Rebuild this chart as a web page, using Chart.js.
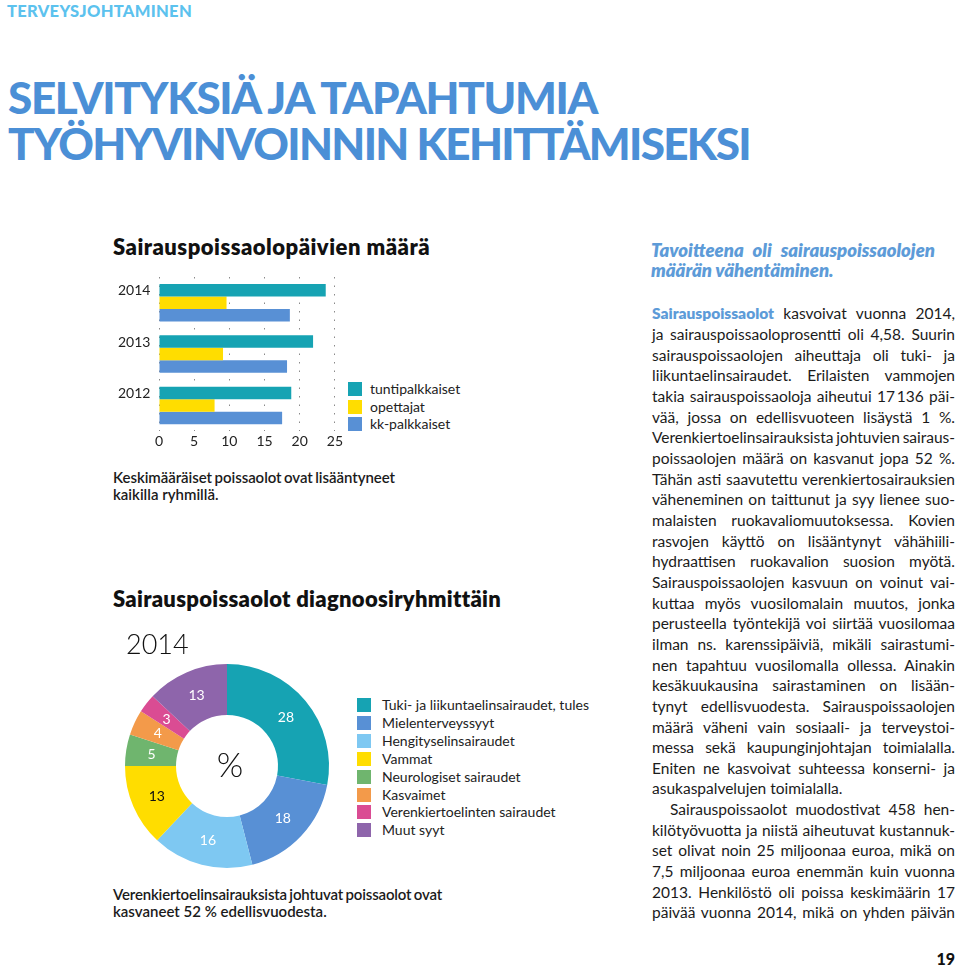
<!DOCTYPE html>
<html>
  <head>
    <meta charset="utf-8" />
    <title>Terveysjohtaminen</title>
    <script src="https://cdn.jsdelivr.net/npm/chart.js"></script>
    <style>
      html,
      body {
        margin: 0;
        padding: 0;
        background: #fff;
      }
      #page {
        position: relative;
        width: 960px;
        height: 970px;
        overflow: hidden;
        font-family: Lato, "Noto Sans", sans-serif;
        color: #1b1b1b;
      }
      .ln {
        position: absolute;
        white-space: nowrap;
        line-height: 1.2;
      }
      .bl {
        display: inline-block;
        width: 0;
        height: 0;
      }
      .tl {
        display: block;
        width: max-content;
        height: 46px;
        line-height: 46px;
        overflow: visible;
      }
      .box {
        position: absolute;
      }
      .sw {
        position: absolute;
        width: 14px;
        height: 14px;
      }
    </style>
  </head>
  <body>
    <div id="page">
      <div class="box" style="left: 105px; top: 267px; width: 240px; height: 190px"><canvas id="bars"></canvas></div>
      <div class="box" style="left: 115px; top: 654px; width: 224px; height: 224px"><canvas id="donut"></canvas></div>
    </div>
    <script>
      // bar chart: sick-leave days per group
      const barYears = ["2014", "2013", "2012"];
      const barSeries = ["tuntipalkkaiset", "opettajat", "kk-palkkaiset"];
      const tuntipalkkaiset = [23.7, 21.9, 18.8];
      const opettajat = [9.6, 9.1, 7.9];
      const kkPalkkaiset = [18.6, 18.2, 17.5];
      const barColors = ["#16a3b3", "#ffdd00", "#5890d5"];
      const xMax = 25;
      const xStep = 5;

      // doughnut: diagnosis groups 2014, %
      const diagLabels = [
        "Tuki- ja liikuntaelinsairaudet, tules",
        "Mielenterveyssyyt",
        "Hengityselinsairaudet",
        "Vammat",
        "Neurologiset sairaudet",
        "Kasvaimet",
        "Verenkiertoelinten sairaudet",
        "Muut syyt",
      ];
      const diagValues = [28, 18, 16, 13, 5, 4, 3, 13];
      const diagColors = ["#16a3b3", "#5890d5", "#7ec8f2", "#ffdd00", "#6fb56e", "#f39a4a", "#da4c93", "#8e65ab"];
      const diagTextColors = ["#fff", "#fff", "#fff", "#111", "#fff", "#fff", "#fff", "#fff"];

      const bodyLines = [
        '<b style="color:#5d9bd8;font-weight:800">Sairauspoissaolot</b> kasvoivat vuonna 2014,',
        "ja sairauspoissaoloprosentti oli 4,58. Suurin",
        "sairauspoissaolojen aiheuttaja oli tuki- ja",
        "liikuntaelinsairaudet. Erilaisten vammojen",
        "takia sairauspoissaoloja aiheutui 17\u2009136 päi-",
        "vää, jossa on edellisvuoteen lisäystä 1 %.",
        "Verenkiertoelinsairauksista johtuvien sairaus-",
        "poissaolojen määrä on kasvanut jopa 52 %.",
        "Tähän asti saavutettu verenkiertosairauksien",
        "väheneminen on taittunut ja syy lienee suo-",
        "malaisten ruokavaliomuutoksessa. Kovien",
        "rasvojen käyttö on lisääntynyt vähähiili-",
        "hydraattisen ruokavalion suosion myötä.",
        "Sairauspoissaolojen kasvuun on voinut vai-",
        "kuttaa myös vuosilomalain muutos, jonka",
        "perusteella työntekijä voi siirtää vuosilomaa",
        "ilman ns. karenssipäiviä, mikäli sairastumi-",
        "nen tapahtuu vuosilomalla ollessa. Ainakin",
        "kesäkuukausina sairastaminen on lisään-",
        "tynyt edellisvuodesta. Sairauspoissaolojen",
        "määrä väheni vain sosiaali- ja terveystoi-",
        "messa sekä kaupunginjohtajan toimialalla.",
        "Eniten ne kasvoivat suhteessa konserni- ja",
        "asukaspalvelujen toimialalla.",
        "Sairauspoissaolot muodostivat 458 hen-",
        "kilötyövuotta ja niistä aiheutuvat kustannuk-",
        "set olivat noin 25 miljoonaa euroa, mikä on",
        "7,5 miljoonaa euroa enemmän kuin vuonna",
        "2013. Henkilöstö oli poissa keskimäärin 17",
        "päivää vuonna 2014, mikä on yhden päivän",
      ];

      const page = document.getElementById("page");

      function fit(d, target, mode) {
        const w = d.getBoundingClientRect().width;
        const text = d.textContent;
        const spaces = (text.match(/ /g) || []).length;
        if (mode === "w" && spaces > 0) {
          let ws = (target - w) / spaces;
          if (ws < -1.2) {
            ws = -1.2;
            const rest = target - (w + ws * spaces);
            d.style.letterSpacing = rest / text.length + "px";
          }
          d.style.wordSpacing = ws + "px";
        } else {
          d.style.letterSpacing = (target - w) / text.length + "px";
        }
      }

      // put a line of text with its baseline at y = base
      function put(html, x, base, style, target, mode) {
        const d = document.createElement("div");
        d.className = "ln";
        Object.assign(d.style, style || {});
        d.innerHTML = html + '<span class="bl"></span>';
        d.style.left = x + "px";
        page.appendChild(d);
        if (target) fit(d, target, mode || "w");
        const b = d.querySelector(".bl").offsetTop;
        d.style.top = base - b + "px";
        return d;
      }

      put("TERVEYSJOHTAMINEN", 7, 17, { fontSize: "16.5px", fontWeight: 900, color: "#5cc2ee", lineHeight: 1 }, 185, "l");

      // two-line title as one block, each line its own 46px row
      const title = document.createElement("div");
      title.className = "ln";
      Object.assign(title.style, { left: "8px", fontSize: "44px", fontWeight: 900, color: "#4b8fd6", lineHeight: "46px" });
      title.innerHTML =
        '<div class="tl" id="t1">SELVITYKSIÄ JA TAPAHTUMIA<span class="bl"></span></div><div class="tl" id="t2">TYÖHYVINVOINNIN KEHITTÄMISEKSI</div>';
      page.appendChild(title);
      [["t1", 589], ["t2", 742]].forEach(([id, w]) => {
        const s = document.getElementById(id);
        const cur = s.getBoundingClientRect().width;
        s.style.letterSpacing = (w - cur) / s.textContent.length + "px";
      });
      const t1 = document.getElementById("t1");
      title.style.top = 114 - (t1.offsetTop + t1.querySelector(".bl").offsetTop) + "px";

      const sub = { fontSize: "22px", fontWeight: 800, color: "#111" };
      put("Sairauspoissaolopäivien määrä", 113, 255, sub, 317, "l");
      put("Sairauspoissaolot diagnoosiryhmittäin", 113, 607, sub, 387, "l");

      const note = { fontSize: "15px", fontWeight: 600, color: "#1b1b1b", lineHeight: 1.1 };
      put("Keskimääräiset poissaolot ovat lisääntyneet", 113, 483, note, 282);
      put("kaikilla ryhmillä.", 113, 500, note);
      put("Verenkiertoelinsairauksista johtuvat poissaolot ovat", 113, 900, note, 329);
      put("kasvaneet 52 % edellisvuodesta.", 113, 917, note);

      put("2014", 126, 654, { fontSize: "27px", fontWeight: 300, color: "#111" });

      const ital = { fontSize: "18.5px", fontWeight: 800, fontStyle: "italic", color: "#5d9bd8", lineHeight: 1.05 };
      put("Tavoitteena oli sairauspoissaolojen", 651, 257, ital, 284);
      put("määrän vähentäminen.", 651, 277, ital);

      const body = { fontSize: "15.5px", color: "#1b1b1b", lineHeight: 1.3 };
      bodyLines.forEach((t, i) => {
        const base = 319.3 + i * 20.66;
        if (i === 23) put(t, 652, base, body);
        else if (i === 24) put(t, 670, base, body, 285);
        else put(t, 652, base, body, 303);
      });

      const pn = put("19", 0, 965, { fontSize: "16px", fontWeight: 900, color: "#111" });
      pn.style.left = 955 - pn.getBoundingClientRect().width + "px";

      // legends
      function legend(labels, colors, x, y0, step, textX) {
        labels.forEach((l, i) => {
          const c = y0 + i * step;
          const s = document.createElement("div");
          s.className = "sw";
          s.style.left = x + "px";
          s.style.top = c - 7 + "px";
          s.style.background = colors[i];
          page.appendChild(s);
          put(l, textX, c + 5, { fontSize: "14px", color: "#222", lineHeight: 1.1 });
        });
      }
      legend(barSeries, barColors, 348, 389, 17.7, 370);
      legend(diagLabels, diagColors, 357, 705, 17.9, 382);

      Chart.defaults.font.family = "Lato, 'Noto Sans', sans-serif";
      Chart.defaults.color = "#222";

      new Chart(document.getElementById("bars"), {
        type: "bar",
        data: {
          labels: barYears,
          datasets: [
            { label: barSeries[0], data: tuntipalkkaiset, backgroundColor: barColors[0] },
            { label: barSeries[1], data: opettajat, backgroundColor: barColors[1] },
            { label: barSeries[2], data: kkPalkkaiset, backgroundColor: barColors[2] },
          ],
        },
        options: {
          indexAxis: "y",
          responsive: true,
          maintainAspectRatio: false,
          animation: false,
          categoryPercentage: 0.73,
          barPercentage: 1,
          layout: { padding: { top: 10, bottom: 5, right: 10, left: 13 } },
          plugins: { legend: { display: false }, tooltip: { enabled: false } },
          scales: {
            x: {
              min: 0,
              max: xMax,
              ticks: { stepSize: xStep, padding: 2, font: { size: 14 }, color: "#222" },
              grid: { color: "#8a8a8a", lineWidth: 1, drawTicks: false },
              border: { display: false, dash: [1.5, 7] },
            },
            y: {
              afterFit: (s) => {
                s.width = 41;
              },
              // year label sits level with the first bar of its group
              ticks: { padding: 0, crossAlign: "far", labelOffset: -12, font: { size: 14 }, color: "#222" },
              grid: { display: false, drawTicks: false },
              border: { display: false },
            },
          },
        },
      });

      const valueLabels = {
        id: "valueLabels",
        afterDatasetsDraw(chart) {
          const ctx = chart.ctx;
          const meta = chart.getDatasetMeta(0);
          ctx.save();
          ctx.textAlign = "center";
          ctx.textBaseline = "middle";
          ctx.font = "14px Lato, sans-serif";
          meta.data.forEach((arc, i) => {
            const p = arc.tooltipPosition();
            ctx.fillStyle = diagTextColors[i];
            ctx.fillText(String(diagValues[i]), p.x, p.y);
          });
          const a = meta.data[0];
          ctx.fillStyle = "#111";
          ctx.font = "300 34px Lato, sans-serif";
          ctx.fillText("%", a.x + 3, a.y);
          ctx.restore();
        },
      };

      new Chart(document.getElementById("donut"), {
        type: "doughnut",
        data: {
          labels: diagLabels,
          datasets: [{ data: diagValues, backgroundColor: diagColors, borderWidth: 0, hoverOffset: 0 }],
        },
        options: {
          responsive: true,
          maintainAspectRatio: false,
          animation: false,
          cutout: "50%",
          layout: { padding: 10 },
          plugins: { legend: { display: false }, tooltip: { enabled: false } },
        },
        plugins: [valueLabels],
      });
    </script>
  </body>
</html>
